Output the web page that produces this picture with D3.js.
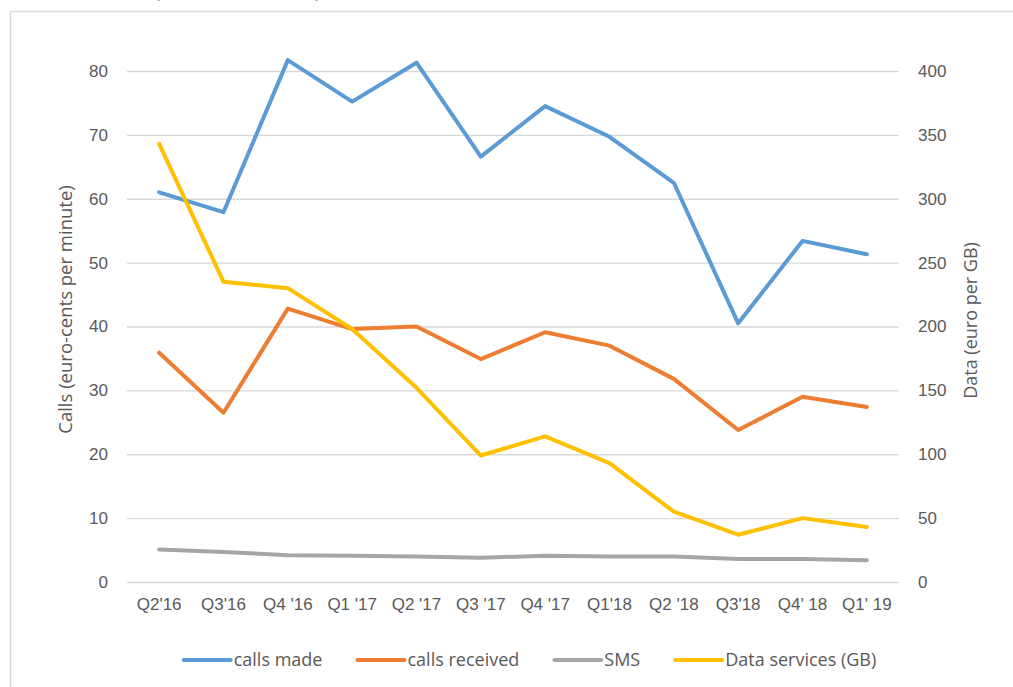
<!DOCTYPE html>
<html>
<head>
<meta charset="utf-8">
<script src="https://cdn.jsdelivr.net/npm/d3@7"></script>
<style>
  body { margin: 0; background: #fff; }
  svg { display: block; font-family: "Open Sans", sans-serif; }
</style>
</head>
<body>
<div class="chart"></div>
<script>
// chart data
const quarters = ["Q2'16", "Q3'16", "Q4 '16", "Q1 '17", "Q2 '17", "Q3 '17", "Q4 '17", "Q1'18", "Q2 '18", "Q3'18", "Q4' 18", "Q1' 19"]
const callsMade = [61.0, 57.9, 81.7, 75.2, 81.3, 66.6, 74.5, 69.7, 62.5, 40.5, 53.4, 51.3]
const callsReceived = [35.9, 26.5, 42.8, 39.6, 40.0, 34.9, 39.1, 37.0, 31.8, 23.8, 29.0, 27.4]
const sms = [5.1, 4.7, 4.2, 4.1, 4.0, 3.8, 4.1, 4.0, 4.0, 3.6, 3.6, 3.4]
const dataServices = [343, 235, 230, 198, 152, 99, 114, 93, 55, 37, 50, 43]
const leftTicks = [0, 10, 20, 30, 40, 50, 60, 70, 80]
const rightTicks = [0, 50, 100, 150, 200, 250, 300, 350, 400]

const series = [
  {name: "calls made", values: callsMade, axis: "left", color: "#5b9bd5"},
  {name: "calls received", values: callsReceived, axis: "left", color: "#ed7d31"},
  {name: "SMS", values: sms, axis: "left", color: "#a5a5a5"},
  {name: "Data services (GB)", values: dataServices, axis: "right", color: "#ffc000"}
]

var W = 1013, H = 687
var margin = {top: 71, right: 114, bottom: 105, left: 127},
    width = W - margin.left - margin.right,
    height = H - margin.top - margin.bottom;

var svg = d3.select(".chart")
  .append("svg")
  .attr("width", W)
  .attr("height", H)

// clipped title remnant at the very top (only descenders show)
svg.append("text")
  .attr("x", 133).attr("y", -3)
  .attr("fill", "#2e75b6")
  .style("font-size", "22px")
  .text(") Q")
svg.append("text")
  .attr("x", 303).attr("y", -3)
  .attr("fill", "#2e75b6")
  .style("font-size", "22px")
  .text("Q")

// outer frame
svg.append("rect")
  .attr("x", 10.5).attr("y", 11.5)
  .attr("width", 1100).attr("height", 800)
  .attr("fill", "none")
  .attr("stroke", "#d9d9d9")
  .attr("stroke-width", 1.5)

var g = svg.append("g")
  .attr("transform", "translate(" + margin.left + "," + margin.top + ")")

var x = d3.scaleBand()
  .domain(quarters)
  .range([0, width])
  .padding(0)

var yL = d3.scaleLinear().domain([0, 80]).range([height, 0])
var yR = d3.scaleLinear().domain([0, 400]).range([height, 0])

// gridlines + left labels
var leftAxis = g.append("g")
  .call(d3.axisLeft(yL).tickValues(leftTicks).tickSize(-width).tickPadding(19))
leftAxis.select(".domain").remove()
leftAxis.selectAll(".tick line").attr("stroke", "#d9d9d9").attr("stroke-width", 1.3)
leftAxis.selectAll(".tick text").attr("fill", "#595959").style("font-size", "17px")

var rightAxis = g.append("g")
  .attr("transform", "translate(" + width + ",0)")
  .call(d3.axisRight(yR).tickValues(rightTicks).tickSize(0).tickPadding(19))
rightAxis.select(".domain").remove()
rightAxis.selectAll(".tick text").attr("fill", "#595959").style("font-size", "17px")

var bottomAxis = g.append("g")
  .attr("transform", "translate(0," + height + ")")
  .call(d3.axisBottom(x).tickSize(0).tickPadding(16))
bottomAxis.select(".domain").remove()
bottomAxis.selectAll(".tick text").attr("fill", "#595959").style("font-size", "17px")

// axis titles
svg.append("text")
  .attr("transform", "translate(72," + (margin.top + height / 2 - 17) + ") rotate(-90)")
  .attr("text-anchor", "middle")
  .attr("fill", "#595959")
  .style("font-size", "18.5px")
  .text("Calls (euro-cents per minute)")

svg.append("text")
  .attr("transform", "translate(977," + (margin.top + height / 2 - 6) + ") rotate(-90)")
  .attr("text-anchor", "middle")
  .attr("fill", "#595959")
  .style("font-size", "18px")
  .text("Data (euro per GB)")

// lines
series.forEach(s => {
  var yS = s.axis == "left" ? yL : yR
  var line = d3.line()
    .x((d, i) => x(quarters[i]) + x.bandwidth() / 2)
    .y(d => yS(d))
  g.append("path")
    .datum(s.values)
    .attr("d", line)
    .attr("fill", "none")
    .attr("stroke", s.color)
    .attr("stroke-width", 4)
    .attr("stroke-linejoin", "round")
    .attr("stroke-linecap", "round")
})

// legend
var legend = svg.append("g")
var lx = 0
series.forEach(s => {
  var item = legend.append("g").attr("transform", "translate(" + lx + ",0)")
  item.append("line")
    .attr("x1", 0).attr("x2", 47)
    .attr("y1", 0).attr("y2", 0)
    .attr("stroke", s.color)
    .attr("stroke-width", 4)
    .attr("stroke-linecap", "round")
  var t = item.append("text")
    .attr("x", 50).attr("dy", "0.35em")
    .attr("fill", "#595959")
    .style("font-size", "18px")
    .text(s.name)
  lx += 50 + t.node().getComputedTextLength() + 35
})
var legendW = lx - 35
legend.attr("transform", "translate(" + (530 - legendW / 2) + ",660)")
</script>
</body>
</html>
